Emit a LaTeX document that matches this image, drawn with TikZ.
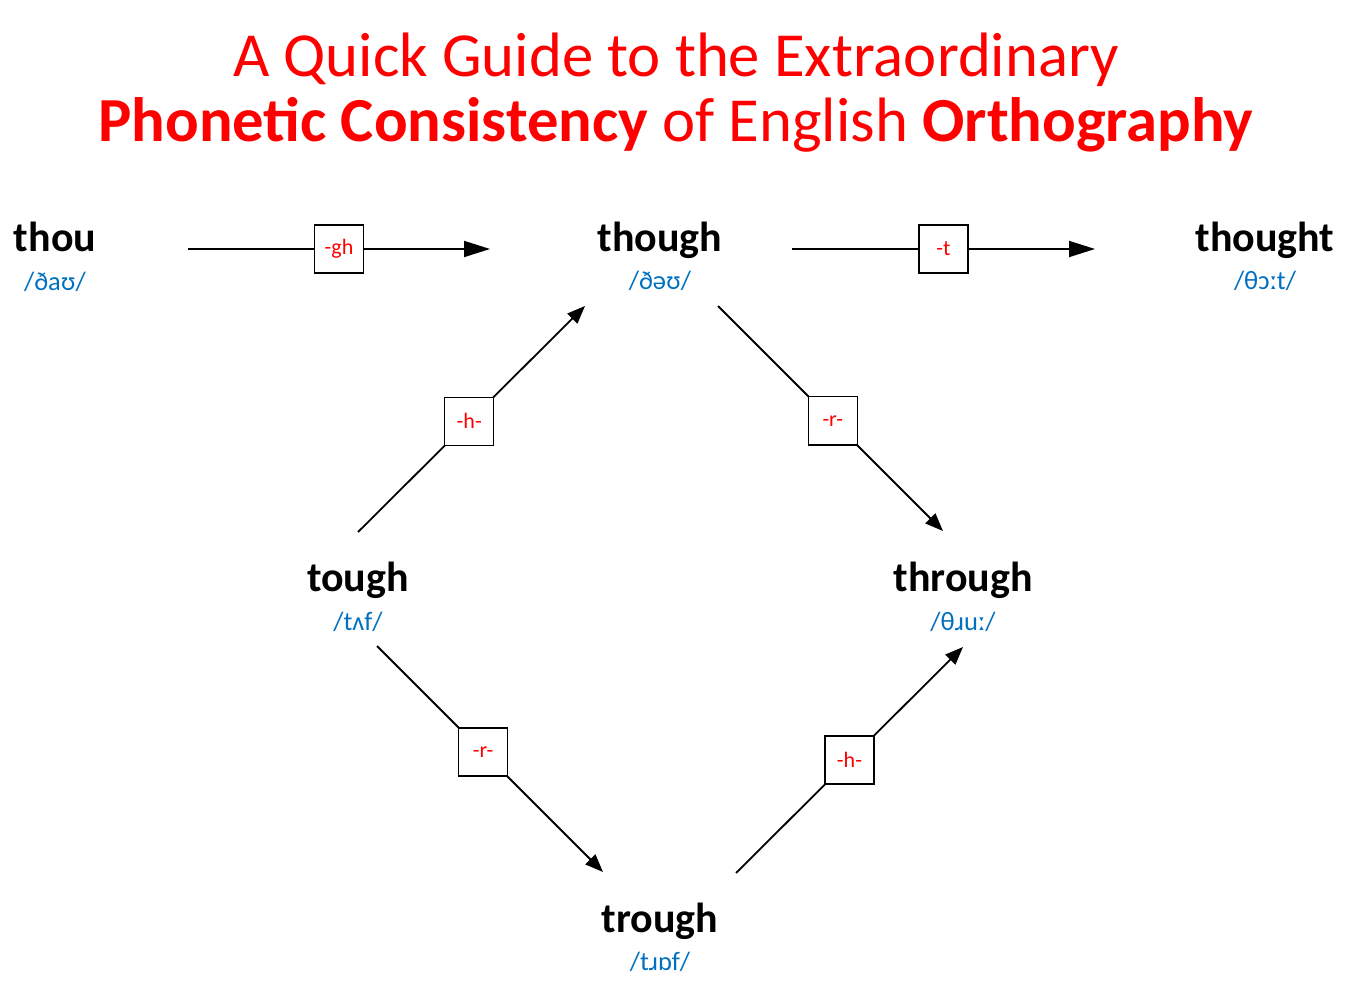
\documentclass[tikz,border=0pt]{standalone}
\usepackage{fontspec}
\setmainfont{Carlito}
\newfontfamily\ipafont{Carlito}
\usetikzlibrary{arrows.meta}
\definecolor{titlered}{HTML}{FF0000}
\definecolor{ipablue}{HTML}{0070C0}
\tikzset{
  word/.style={font=\fontsize{42}{44}\selectfont\bfseries, inner sep=0pt, anchor=base},
  ipa/.style={font=\fontsize{26.5}{28}\selectfont\ipafont, text=ipablue, inner sep=0pt, anchor=base},
  lbl/.style={draw, line width=1.5pt, fill=white, minimum width=49pt, minimum height=48pt, inner sep=0pt, text=titlered, font=\fontsize{22}{24}\selectfont},
  harr/.style={line width=1.8pt, -{Triangle[length=26pt,width=16pt]}},
  darr/.style={line width=1.8pt, -{Triangle[length=18pt,width=14pt]}},
  ttl/.style={text=titlered, inner sep=0pt, anchor=base, font=\fontsize{62.7}{66}\selectfont}
}
\begin{document}
\begin{tikzpicture}[x=1pt,y=-1pt]
\useasboundingbox (0,0) rectangle (1352,992);
\node[ttl] (t1) at (676,77) {A Quick Guide to the Extraordinary};
\node[ttl] (t2) at (676,142) {\textbf{Phonetic Consistency} of English \textbf{Orthography}};
% words
\node[word] (thou) at (55,252) {thou};
\node[ipa] (thouipa) at (55,291) {/ðaʊ/};
\node[word] (though) at (660,252) {though};
\node[ipa] (thoughipa) at (660,290) {/ðəʊ/};
\node[word] (thought) at (1265,252) {thought};
\node[ipa] (thoughtipa) at (1265,290) {/θɔːt/};
\node[word] (tough) at (358,591) {tough};
\node[ipa] (toughipa) at (358,630) {/tʌf/};
\node[word] (through) at (963,591) {through};
\node[ipa] (throughipa) at (963,630) {/θɹuː/};
\node[word] (trough) at (660,932) {trough};
\node[ipa] (troughipa) at (660,970) {/tɹɒf/};
% connector ends
\coordinate (thouR) at (188,249);
\coordinate (thoughL) at (490,249);
\coordinate (thoughR) at (792,249);
\coordinate (thoughtL) at (1095,249);
\coordinate (toughUp) at (358,532);
\coordinate (thoughDL) at (585,306);
\coordinate (thoughDR) at (718,306);
\coordinate (throughUp) at (943,531);
\coordinate (toughDown) at (377,646);
\coordinate (troughUL) at (603,872);
\coordinate (troughUR) at (736,873);
\coordinate (throughDown) at (963,647);
% connectors
\draw[harr] (thouR) -- node[lbl] (b1) {-gh} (thoughL);
\draw[harr] (thoughR) -- node[lbl] (b2) {-t} (thoughtL);
\draw[darr] (toughUp) -- node[lbl, pos=0.49] (b3) {-h-} (thoughDL);
\draw[darr] (thoughDR) -- node[lbl, pos=0.51] (b4) {-r-} (throughUp);
\draw[darr] (toughDown) -- node[lbl, pos=0.47] (b5) {-r-} (troughUL);
\draw[darr] (troughUR) -- node[lbl, pos=0.5] (b6) {-h-} (throughDown);
\end{tikzpicture}
\end{document}
